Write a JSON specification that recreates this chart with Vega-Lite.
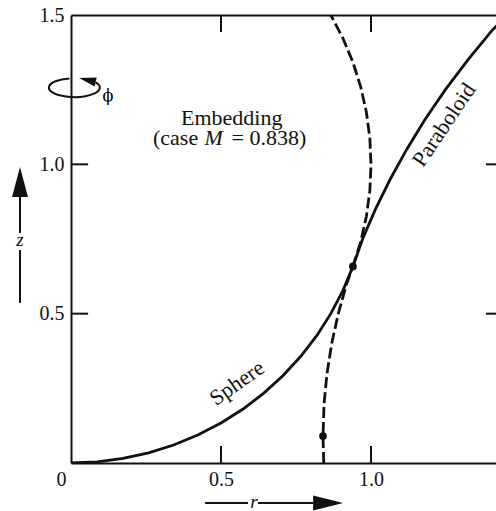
{
  "$schema": "https://vega.github.io/schema/vega-lite/v6.json",
  "width": 425,
  "height": 448,
  "autosize": {"type": "none"},
  "padding": {"left": 71, "top": 15, "right": 0, "bottom": 48},
  "background": "white",
  "config": {
    "view": {"stroke": null},
    "axis": {"grid": false, "title": null, "domainColor": "#111", "tickColor": "#111", "labelColor": "#111", "labelFont": "Liberation Serif", "labelFontSize": 20, "domainWidth": 2}
  },
  "datasets": {
    "sphere": [{"r":0,"z":0},{"r":0.0872,"z":0.0038},{"r":0.1736,"z":0.0152},{"r":0.2588,"z":0.0341},{"r":0.342,"z":0.0603},{"r":0.4226,"z":0.0937},{"r":0.5,"z":0.134},{"r":0.5736,"z":0.1808},{"r":0.6428,"z":0.234},{"r":0.7071,"z":0.2929},{"r":0.766,"z":0.3572},{"r":0.8192,"z":0.4264},{"r":0.866,"z":0.5},{"r":0.9063,"z":0.5774},{"r":0.9397,"z":0.658}],
    "sphereExt": [{"r":0.9397,"z":0.658},{"r":0.9659,"z":0.7412},{"r":0.9848,"z":0.8264},{"r":0.9962,"z":0.9128},{"r":1.0,"z":1.0},{"r":0.9962,"z":1.0872},{"r":0.9848,"z":1.1736},{"r":0.9659,"z":1.2588},{"r":0.9397,"z":1.342},{"r":0.9063,"z":1.4226},{"r":0.866,"z":1.5}],
    "paraboloid": [{"r":0.9397,"z":0.658},{"r":0.972,"z":0.75},{"r":1.015,"z":0.85},{"r":1.064,"z":0.95},{"r":1.119,"z":1.05},{"r":1.18,"z":1.15},{"r":1.248,"z":1.25},{"r":1.323,"z":1.35},{"r":1.405,"z":1.45},{"r":1.455,"z":1.5}],
    "paraboloidExt": [{"r":0.8425,"z":0},{"r":0.84,"z":0.09},{"r":0.8437,"z":0.2},{"r":0.8534,"z":0.3},{"r":0.869,"z":0.4},{"r":0.891,"z":0.5},{"r":0.9188,"z":0.6},{"r":0.9397,"z":0.658}],
    "dots": [{"r":0.9397,"z":0.658},{"r":0.84,"z":0.09}],
    "tickLines": [
      {"k":"b1","r":0.5,"z":0},{"k":"b1","r":0.5,"z":0.057},
      {"k":"b2","r":1.0,"z":0},{"k":"b2","r":1.0,"z":0.057},
      {"k":"t1","r":0.5,"z":1.443},{"k":"t1","r":0.5,"z":1.5},
      {"k":"t2","r":1.0,"z":1.443},{"k":"t2","r":1.0,"z":1.5},
      {"k":"l1","r":0,"z":0.5},{"k":"l1","r":0.057,"z":0.5},
      {"k":"l2","r":0,"z":1.0},{"k":"l2","r":0.057,"z":1.0},
      {"k":"g1","r":1.383,"z":0.5},{"k":"g1","r":1.4167,"z":0.5},
      {"k":"g2","r":1.383,"z":1.0},{"k":"g2","r":1.4167,"z":1.0}
    ],
    "upright": [{"r":0.3667,"z":1.1317,"t":"Embedding"},{"r":0.2733,"z":1.0647,"t":"(case"},{"r":0.535,"z":1.0647,"t":"= 0.838)"}],
    "italic": [{"r":0.445,"z":1.0647,"t":"M"}],
    "axisLetters": [{"r":-0.17,"z":0.7467,"t":"z"},{"r":0.61,"z":-0.131,"t":"r"}],
    "sphereLabel": [{"r":0.553,"z":0.268,"t":"Sphere"}],
    "paraLabel": [{"r":1.243,"z":1.132,"t":"Paraboloid"}],
    "phi": [{"r":0.1233,"z":1.229,"t":"ϕ"}],
    "rotSymbol": [{"r":0.01,"z":1.257}],
    "vSegs": [{"r":-0.17,"z":0.536,"z2":0.713},{"r":-0.17,"z":0.77,"z2":0.891}],
    "hSegs": [{"z":-0.134,"r":0.447,"r2":0.59},{"z":-0.134,"r":0.623,"r2":0.807}],
    "upHead": [{"r":-0.17,"z":0.941}],
    "rightHead": [{"r":0.857,"z":-0.134}]
  },
  "layer": [
    {
      "data": {"name": "sphere"},
      "mark": {"type": "line", "clip": true, "strokeWidth": 2.8, "color": "#111"},
      "encoding": {
        "x": {"field": "r", "type": "quantitative", "scale": {"domain": [0, 1.4167], "nice": false, "zero": false},
          "axis": {"orient": "bottom", "values": [0, 0.5, 1], "labelExpr": "datum.value == 0 ? '0' : format(datum.value, '.1f')", "ticks": false, "tickSize": 0, "labelPadding": 6, "labelFlush": false, "labelOffset": {"condition": {"test": "datum.value == 0", "value": -10}, "value": 0}}},
        "y": {"field": "z", "type": "quantitative", "scale": {"domain": [0, 1.5], "nice": false},
          "axis": {"orient": "left", "values": [0.5, 1, 1.5], "format": ".1f", "ticks": false, "tickSize": 0, "labelPadding": 7, "labelFlush": false}},
        "order": {"field": "z", "type": "quantitative"}
      }
    },
    {
      "data": {"name": "sphereExt"},
      "mark": {"type": "line", "clip": true, "strokeWidth": 2.8, "color": "#111", "strokeDash": [11, 4]},
      "encoding": {
        "x": {"field": "r", "type": "quantitative", "axis": null},
        "y": {"field": "z", "type": "quantitative", "axis": null},
        "order": {"field": "z", "type": "quantitative"}
      }
    },
    {
      "data": {"name": "paraboloid"},
      "mark": {"type": "line", "clip": true, "strokeWidth": 2.8, "color": "#111"},
      "encoding": {
        "x": {"field": "r", "type": "quantitative", "axis": null},
        "y": {"field": "z", "type": "quantitative", "axis": null},
        "order": {"field": "z", "type": "quantitative"}
      }
    },
    {
      "data": {"name": "paraboloidExt"},
      "mark": {"type": "line", "clip": true, "strokeWidth": 2.8, "color": "#111", "strokeDash": [11, 4]},
      "encoding": {
        "x": {"field": "r", "type": "quantitative", "axis": null},
        "y": {"field": "z", "type": "quantitative", "axis": null},
        "order": {"field": "z", "type": "quantitative"}
      }
    },
    {
      "data": {"name": "tickLines"},
      "mark": {"type": "line", "strokeWidth": 2, "color": "#111"},
      "encoding": {
        "x": {"field": "r", "type": "quantitative", "axis": null},
        "y": {"field": "z", "type": "quantitative", "axis": null},
        "detail": {"field": "k", "type": "nominal"}
      }
    },
    {
      "data": {"name": "dots"},
      "mark": {"type": "point", "filled": true, "size": 60, "color": "#111", "opacity": 1},
      "encoding": {
        "x": {"field": "r", "type": "quantitative", "axis": {"orient": "top", "values": [0.5, 1], "labels": false, "ticks": false, "tickSize": 0}},
        "y": {"field": "z", "type": "quantitative", "axis": null}
      }
    },
    {
      "data": {"name": "upright"},
      "mark": {"type": "text", "font": "Liberation Serif", "fontSize": 22, "align": "left", "baseline": "alphabetic", "color": "#111"},
      "encoding": {
        "x": {"field": "r", "type": "quantitative", "axis": null},
        "y": {"field": "z", "type": "quantitative", "axis": null},
        "text": {"field": "t"}
      }
    },
    {
      "data": {"name": "italic"},
      "mark": {"type": "text", "font": "Liberation Serif", "fontSize": 22, "fontStyle": "italic", "align": "left", "baseline": "alphabetic", "color": "#111"},
      "encoding": {
        "x": {"field": "r", "type": "quantitative", "axis": null},
        "y": {"field": "z", "type": "quantitative", "axis": null},
        "text": {"field": "t"}
      }
    },
    {
      "data": {"name": "axisLetters"},
      "mark": {"type": "text", "font": "Liberation Serif", "fontSize": 19, "fontStyle": "italic", "align": "center", "baseline": "middle", "color": "#111"},
      "encoding": {
        "x": {"field": "r", "type": "quantitative", "axis": null},
        "y": {"field": "z", "type": "quantitative", "axis": null},
        "text": {"field": "t"}
      }
    },
    {
      "data": {"name": "sphereLabel"},
      "mark": {"type": "text", "font": "Liberation Serif", "fontSize": 22, "angle": -35, "align": "center", "baseline": "middle", "color": "#111"},
      "encoding": {
        "x": {"field": "r", "type": "quantitative", "axis": null},
        "y": {"field": "z", "type": "quantitative", "axis": null},
        "text": {"field": "t"}
      }
    },
    {
      "data": {"name": "paraLabel"},
      "mark": {"type": "text", "font": "Liberation Serif", "fontSize": 22, "angle": -56, "align": "center", "baseline": "middle", "color": "#111"},
      "encoding": {
        "x": {"field": "r", "type": "quantitative", "axis": null},
        "y": {"field": "z", "type": "quantitative", "axis": null},
        "text": {"field": "t"}
      }
    },
    {
      "data": {"name": "phi"},
      "mark": {"type": "text", "font": "DejaVu Serif", "fontSize": 16, "align": "center", "baseline": "middle", "color": "#000"},
      "encoding": {
        "x": {"field": "r", "type": "quantitative", "axis": null},
        "y": {"field": "z", "type": "quantitative", "axis": null},
        "text": {"field": "t"}
      }
    },
    {
      "data": {"name": "rotSymbol"},
      "mark": {"type": "point", "filled": false, "size": 2601, "strokeWidth": 2, "color": "#111", "opacity": 1, "shape": "M -0.18 -0.36 A 1 0.37 0 1 0 0.85 -0.2"},
      "encoding": {
        "x": {"field": "r", "type": "quantitative", "axis": null},
        "y": {"field": "z", "type": "quantitative", "axis": null}
      }
    },
    {
      "data": {"name": "rotSymbol"},
      "mark": {"type": "point", "filled": true, "size": 2601, "color": "#111", "opacity": 1, "shape": "M 0.2 -0.38 L 0.89 -0.4 L 0.81 -0.045 Z"},
      "encoding": {
        "x": {"field": "r", "type": "quantitative", "axis": null},
        "y": {"field": "z", "type": "quantitative", "axis": null}
      }
    },
    {
      "data": {"name": "vSegs"},
      "mark": {"type": "rule", "strokeWidth": 2, "color": "#111"},
      "encoding": {
        "x": {"field": "r", "type": "quantitative", "axis": null},
        "y": {"field": "z", "type": "quantitative", "axis": null},
        "y2": {"field": "z2"}
      }
    },
    {
      "data": {"name": "hSegs"},
      "mark": {"type": "rule", "strokeWidth": 2, "color": "#111"},
      "encoding": {
        "x": {"field": "r", "type": "quantitative", "axis": null},
        "x2": {"field": "r2"},
        "y": {"field": "z", "type": "quantitative", "axis": null}
      }
    },
    {
      "data": {"name": "upHead"},
      "mark": {"type": "point", "filled": true, "size": 900, "color": "#111", "opacity": 1, "shape": "M 0 -1 L 0.53 1 L -0.53 1 Z"},
      "encoding": {
        "x": {"field": "r", "type": "quantitative", "axis": null},
        "y": {"field": "z", "type": "quantitative", "axis": null}
      }
    },
    {
      "data": {"name": "rightHead"},
      "mark": {"type": "point", "filled": true, "size": 900, "color": "#111", "opacity": 1, "shape": "M 1 0 L -1 0.5 L -1 -0.5 Z"},
      "encoding": {
        "x": {"field": "r", "type": "quantitative", "axis": null},
        "y": {"field": "z", "type": "quantitative", "axis": null}
      }
    }
  ],
  "resolve": {"axis": {"x": "independent", "y": "independent"}}
}
